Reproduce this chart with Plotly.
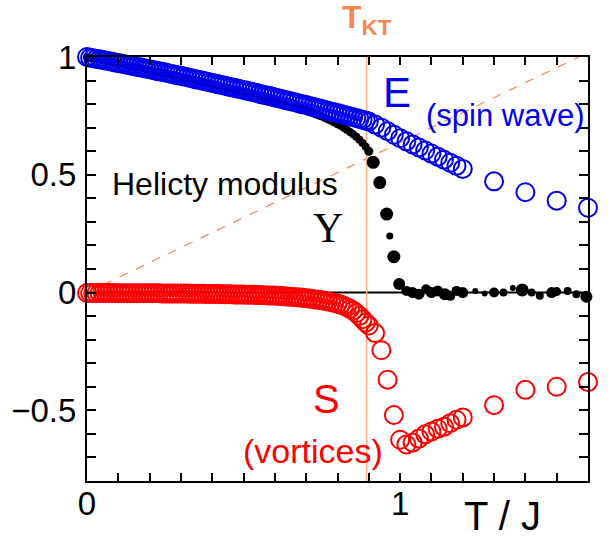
import plotly.graph_objects as go
import math

# ---------------- data ----------------
T_dense = [i / 100 for i in range(90)]          # 0.00 ... 0.89
T_after = [0.90, 0.92, 0.94, 0.96, 0.98, 1.00, 1.02, 1.04, 1.06, 1.08,
           1.10, 1.12, 1.14, 1.16, 1.18, 1.20, 1.30, 1.40, 1.50, 1.60]

E_dense = [1.000, 0.997, 0.995, 0.992, 0.990, 0.987, 0.985, 0.982, 0.980, 0.977,
           0.974, 0.972, 0.969, 0.966, 0.964, 0.961, 0.958, 0.956, 0.953, 0.950,
           0.948, 0.945, 0.942, 0.939, 0.937, 0.934, 0.931, 0.928, 0.925, 0.922,
           0.920, 0.917, 0.914, 0.911, 0.908, 0.905, 0.902, 0.899, 0.896, 0.893,
           0.890, 0.887, 0.884, 0.881, 0.878, 0.875, 0.872, 0.869, 0.866, 0.863,
           0.860, 0.857, 0.854, 0.851, 0.848, 0.844, 0.841, 0.838, 0.835, 0.832,
           0.828, 0.825, 0.822, 0.819, 0.815, 0.812, 0.809, 0.806, 0.802, 0.799,
           0.796, 0.792, 0.789, 0.786, 0.782, 0.779, 0.775, 0.772, 0.768, 0.765,
           0.762, 0.758, 0.755, 0.751, 0.748, 0.744, 0.741, 0.737, 0.734, 0.730]
E_after = [0.726, 0.713, 0.700, 0.685, 0.670, 0.655, 0.642, 0.629, 0.616, 0.603,
           0.590, 0.577, 0.564, 0.551, 0.538, 0.525, 0.472, 0.426, 0.390, 0.360]

S_dense = [-0.002, -0.002, -0.002, -0.002, -0.002, -0.002, -0.002, -0.002, -0.002, -0.002,
           -0.003, -0.003, -0.003, -0.003, -0.003, -0.003, -0.003, -0.003, -0.003, -0.003,
           -0.003, -0.003, -0.003, -0.003, -0.004, -0.004, -0.004, -0.004, -0.004, -0.004,
           -0.004, -0.004, -0.004, -0.005, -0.005, -0.005, -0.005, -0.005, -0.006, -0.006,
           -0.006, -0.006, -0.006, -0.007, -0.007, -0.007, -0.007, -0.008, -0.008, -0.008,
           -0.008, -0.009, -0.009, -0.009, -0.010, -0.010, -0.011, -0.011, -0.012, -0.012,
           -0.013, -0.014, -0.015, -0.016, -0.017, -0.018, -0.019, -0.020, -0.021, -0.022,
           -0.024, -0.025, -0.027, -0.029, -0.031, -0.033, -0.036, -0.038, -0.041, -0.044,
           -0.047, -0.051, -0.056, -0.062, -0.069, -0.077, -0.087, -0.099, -0.113, -0.128]
S_after = [-0.140, -0.172, -0.245, -0.370, -0.520, -0.625, -0.645, -0.637, -0.620, -0.602,
           -0.590, -0.578, -0.570, -0.555, -0.540, -0.530, -0.478, -0.413, -0.400, -0.380]

U_dense = [1.000, 0.997, 0.995, 0.992, 0.989, 0.987, 0.984, 0.982, 0.979, 0.976,
           0.973, 0.971, 0.968, 0.965, 0.962, 0.960, 0.957, 0.954, 0.951, 0.948,
           0.946, 0.943, 0.940, 0.937, 0.934, 0.931, 0.928, 0.925, 0.922, 0.919,
           0.916, 0.913, 0.910, 0.907, 0.904, 0.900, 0.897, 0.894, 0.891, 0.887,
           0.884, 0.881, 0.877, 0.874, 0.871, 0.867, 0.864, 0.860, 0.857, 0.853,
           0.850, 0.846, 0.843, 0.839, 0.835, 0.831, 0.828, 0.824, 0.820, 0.816,
           0.813, 0.809, 0.805, 0.801, 0.797, 0.793, 0.789, 0.785, 0.780, 0.776,
           0.772, 0.767, 0.762, 0.757, 0.752, 0.747, 0.741, 0.735, 0.729, 0.722,
           0.715, 0.708, 0.700, 0.691, 0.682, 0.672, 0.661, 0.649, 0.635, 0.619]
T_U_sparse = [0.900, 0.914, 0.935, 0.957, 0.967, 0.980, 0.997, 1.020, 1.040, 1.060,
              1.083, 1.100, 1.120, 1.143, 1.160, 1.180, 1.200, 1.240, 1.270, 1.300,
              1.330, 1.360, 1.390, 1.420, 1.446, 1.484, 1.500, 1.535, 1.563, 1.595]
U_sparse = [0.600, 0.553, 0.467, 0.333, 0.240, 0.152, 0.036, 0.007, 0.000, -0.007,
            0.014, 0.000, 0.007, -0.007, -0.014, 0.007, 0.000, 0.007, -0.004, 0.000,
            0.000, 0.019, 0.011, 0.000, -0.014, 0.000, 0.004, 0.007, -0.007, -0.018]
U_sparse_size = [9, 13, 13, 13, 7, 13, 12, 10, 11, 11,
                 10, 11, 11, 12, 10, 10, 11, 6, 6, 10,
                 8, 6, 13, 8, 8, 11, 9, 8, 8, 12]

T_KT = 0.893
T_range = [0, 1.6]
jump_T = [0, math.pi / 2]
jump_U = [0, 1]

x_tickvals = [i / 10 for i in range(17)]
x_ticktext = ["0" if v == 0 else ("1" if v == 1.0 else "") for v in x_tickvals]
y_tickvals = [(-8 + i) / 10 for i in range(19)]
y_labels = {-0.5: "\u22120.5", 0.0: "0", 0.5: "0.5", 1.0: "1"}
y_ticktext = [y_labels.get(round(v, 1), "") for v in y_tickvals]

# ---------------- figure ----------------
ORANGE = "rgb(246,135,78)"
ORANGE_LIGHT = "rgb(250,175,135)"
BLUE = "rgb(0,0,240)"
FONT = "Liberation Sans, Arial, sans-serif"

fig = go.Figure()

# universal jump line 2T/pi
fig.add_trace(go.Scatter(x=jump_T, y=jump_U, mode="lines",
                         line=dict(color=ORANGE, width=1.2, dash="dash"),
                         hoverinfo="skip", showlegend=False))
# zero line
fig.add_trace(go.Scatter(x=T_range, y=[0, 0], mode="lines",
                         line=dict(color="black", width=2),
                         hoverinfo="skip", showlegend=False))
# T_KT vertical line
fig.add_trace(go.Scatter(x=[T_KT, T_KT], y=[-0.8, 1.0], mode="lines",
                         line=dict(color=ORANGE_LIGHT, width=1.5),
                         hoverinfo="skip", showlegend=False))

# helicity modulus
fig.add_trace(go.Scatter(x=T_dense, y=U_dense, mode="markers",
                         marker=dict(color="black", size=8, opacity=1, line=dict(width=0)),
                         cliponaxis=False, showlegend=False))
fig.add_trace(go.Scatter(x=T_U_sparse, y=U_sparse, mode="markers",
                         marker=dict(color="black", size=U_sparse_size, opacity=1,
                                     line=dict(width=0)),
                         cliponaxis=False, showlegend=False))
# E (spin wave)
fig.add_trace(go.Scatter(x=T_dense + T_after, y=E_dense + E_after, mode="markers",
                         marker=dict(symbol="circle-open", color=BLUE, size=18, opacity=1,
                                     line=dict(width=2, color=BLUE)),
                         cliponaxis=False, showlegend=False))
# S (vortices)
fig.add_trace(go.Scatter(x=T_dense + T_after, y=S_dense + S_after, mode="markers",
                         marker=dict(symbol="circle-open", color="rgb(255,0,0)", size=18,
                                     opacity=1, line=dict(width=2, color="rgb(255,0,0)")),
                         cliponaxis=False, showlegend=False))

fig.update_xaxes(range=T_range, showline=True, linecolor="black", linewidth=2,
                 mirror="allticks", ticks="inside", ticklen=8, tickwidth=1.5,
                 tickcolor="black", tickvals=x_tickvals, ticktext=x_ticktext,
                 tickfont=dict(family=FONT, size=33, color="black"),
                 ticklabelstandoff=-8,
                 showgrid=False, zeroline=False)
fig.update_yaxes(range=[-0.8, 1.0], showline=True, linecolor="black", linewidth=2,
                 mirror="allticks", ticks="inside", ticklen=9, tickwidth=1.5,
                 tickcolor="black", tickvals=y_tickvals, ticktext=y_ticktext,
                 tickfont=dict(family=FONT, size=33, color="black"),
                 ticklabelstandoff=2,
                 showgrid=False, zeroline=False)

ann = [
    dict(x=0.99, y=0.848, text="E", font=dict(size=42, color=BLUE)),
    dict(x=1.335, y=0.75, text="(spin wave)", font=dict(size=31, color=BLUE)),
    dict(x=0.441, y=0.461, text="Helicty modulus", font=dict(size=32, color="black")),
    dict(x=0.771, y=0.272, text="\u03a5", font=dict(size=42, color="black",
                                                   family="Liberation Serif, Times New Roman, serif")),
    dict(x=0.764, y=-0.451, text="S", font=dict(size=40, color="red")),
    dict(x=0.722, y=-0.672, text="(vortices)", font=dict(size=34, color="red")),
]
for a in ann:
    f = a.pop("font")
    f.setdefault("family", FONT)
    fig.add_annotation(**a, xref="x", yref="y", showarrow=False, font=f,
                       xanchor="center", yanchor="middle")

fig.add_annotation(x=T_KT, y=1.088, xref="x", yref="paper",
                   text="<b>T<sub>KT</sub></b>", showarrow=False,
                   font=dict(family=FONT, size=32, color=ORANGE),
                   xanchor="center", yanchor="middle")
fig.add_annotation(x=1.326, y=-0.083, xref="x", yref="paper",
                   text="T / J", showarrow=False,
                   font=dict(family=FONT, size=40, color="black"),
                   xanchor="center", yanchor="middle")

fig.update_layout(width=608, height=541,
                  margin=dict(l=87, r=20, t=57, b=60),
                  plot_bgcolor="white", paper_bgcolor="white",
                  showlegend=False)

fig.write_html("out.html")
